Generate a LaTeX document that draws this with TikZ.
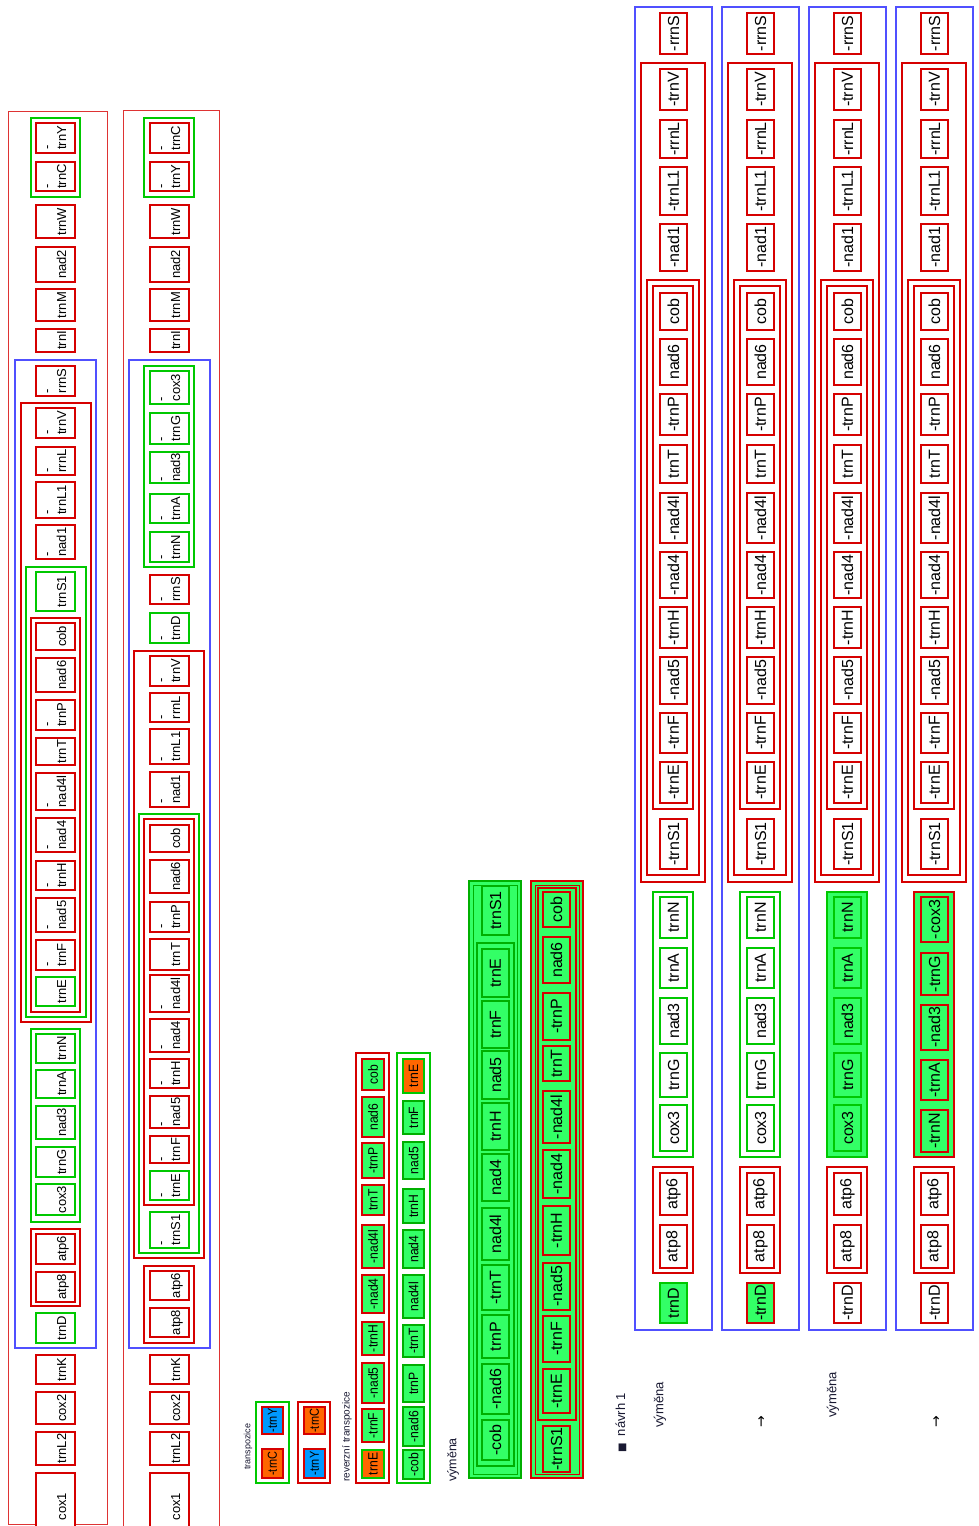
\documentclass[tikz,border=0pt]{standalone}
\usepackage{fontspec}
\setmainfont{Liberation Sans}
\newfontfamily\dejavu{DejaVu Sans}
\definecolor{gred}{RGB}{214,0,0}
\definecolor{ggreen}{RGB}{0,200,0}
\definecolor{dgreen}{RGB}{0,175,0}
\definecolor{gblue}{RGB}{80,80,255}
\definecolor{lgreen}{RGB}{51,255,102}
\definecolor{gorange}{RGB}{255,102,0}
\definecolor{gsky}{RGB}{0,153,255}
\definecolor{txtc}{RGB}{25,25,50}
\tikzset{
 gene/.style={draw=gred,line width=2.3pt,fill=white,rotate=90,inner sep=0pt,outer sep=0pt,align=center,text=black},
 grp/.style={draw=gred,line width=1.8pt,inner sep=0pt,outer sep=0pt},
 bdG/.style={draw=ggreen},
 bdDG/.style={draw=dgreen},
 bdB/.style={draw=gblue},
 fillG/.style={fill=lgreen},
 fillO/.style={fill=gorange},
 fillB/.style={fill=gsky},
 lft/.style={font=\fontsize{13}{15}\selectfont,align=left},
 mid/.style={font=\fontsize{13.5}{15}\selectfont},
 sml/.style={font=\fontsize{13}{15}\selectfont},
 big/.style={font=\fontsize{16}{18}\selectfont},
 rgt/.style={font=\fontsize{16}{18}\selectfont},
 lab/.style={rotate=90,anchor=west,inner sep=0pt,text=txtc},
}
% gene node: [style]{name}{x1}{y1}{x2}{y2}{text}
\newcommand\gn[7][]{%
 \pgfmathsetmacro\myCX{((#3)+(#5))/2}\pgfmathsetmacro\myCY{((#4)+(#6))/2}%
 \pgfmathsetmacro\myLW{(#6)-(#4)}\pgfmathsetmacro\myLH{(#5)-(#3)}%
 \node[gene,#1,minimum width=\myLW pt,minimum height=\myLH pt] (#2) at (\myCX,\myCY) {#7};}
% group node: [style]{name}{x1}{y1}{x2}{y2}
\newcommand\gp[6][]{%
 \pgfmathsetmacro\myCX{((#3)+(#5))/2}\pgfmathsetmacro\myCY{((#4)+(#6))/2}%
 \pgfmathsetmacro\myLW{(#5)-(#3)}\pgfmathsetmacro\myLH{(#6)-(#4)}%
 \node[grp,#1,minimum width=\myLW pt,minimum height=\myLH pt] (#2) at (\myCX,\myCY) {};}
\newcommand\mi[1]{\strut-\\\strut #1}
\newcommand\pl[1]{\strut\\\strut #1}
\newcommand\nar[1]{\scalebox{0.84}[1]{#1}}
\newcommand\nmr[1]{\scalebox{0.9}[1]{#1}}
\begin{document}
\begin{tikzpicture}[x=1pt,y=-1pt]
\useasboundingbox (0,0) rectangle (978,1526);
\clip (0,0) rectangle (978,1526);
\fill[white] (0,0) rectangle (978,1526);

% ================= Column 1 =================
\gp[draw=gred!80,line width=1pt]{c1}{8}{111}{107}{1524}
\gp[bdG]{c1g1}{31}{118}{80}{197}
\gp[bdB]{c1b}{15}{360}{96}{1348}
\gp[]{c1r1}{21}{403}{91}{1022}
\gp[bdG]{c1g2}{26}{567}{86}{1017}
\gp[]{c1r2}{31}{618}{80}{1012}
\gp[bdG]{c1g3}{31}{1029}{80}{1222}
\gp[]{c1r3}{31}{1229}{80}{1306}
\gn[lft]{c1trnY}{36}{123}{75}{153}{\mi{trnY}}
\gn[lft]{c1trnC}{36}{162}{75}{191}{\mi{trnC}}
\gn[lft]{c1trnW}{36}{205}{75}{238}{\pl{trnW}}
\gn[lft]{c1nad2}{36}{247}{75}{282}{\pl{nad2}}
\gn[lft]{c1trnM}{36}{289}{75}{321}{\pl{trnM}}
\gn[lft]{c1trnI}{36}{329}{75}{352}{\pl{trnI}}
\gn[lft]{c1rrnS}{36}{366}{75}{396}{\mi{rrnS}}
\gn[lft]{c1trnV}{36}{408}{75}{438}{\mi{trnV}}
\gn[lft]{c1rrnL}{36}{447}{75}{475}{\mi{rrnL}}
\gn[lft]{c1trnL1}{36}{482}{75}{518}{\mi{trnL1}}
\gn[lft]{c1nad1}{36}{525}{75}{559}{\mi{nad1}}
\gn[lft,bdG]{c1trnS1}{36}{572}{75}{611}{\pl{trnS1}}
\gn[lft]{c1cob}{36}{623}{75}{650}{\pl{cob}}
\gn[lft]{c1nad6}{36}{658}{75}{692}{\pl{nad6}}
\gn[lft]{c1trnP}{36}{700}{75}{730}{\mi{trnP}}
\gn[lft]{c1trnT}{36}{738}{75}{765}{\pl{trnT}}
\gn[lft]{c1nad4l}{36}{773}{75}{810}{\mi{nad4l}}
\gn[lft]{c1nad4}{36}{818}{75}{852}{\mi{nad4}}
\gn[lft]{c1trnH}{36}{861}{75}{890}{\mi{trnH}}
\gn[lft]{c1nad5}{36}{898}{75}{932}{\mi{nad5}}
\gn[lft]{c1trnF}{36}{940}{75}{970}{\mi{trnF}}
\gn[lft,bdG]{c1trnE}{36}{977}{75}{1006}{\pl{trnE}}
\gn[lft,bdG]{c1trnN}{36}{1034}{75}{1063}{\pl{trnN}}
\gn[lft,bdG]{c1trnA}{36}{1070}{75}{1098}{\pl{trnA}}
\gn[lft,bdG]{c1nad3}{36}{1106}{75}{1139}{\pl{nad3}}
\gn[lft,bdG]{c1trnG}{36}{1147}{75}{1177}{\pl{trnG}}
\gn[lft,bdG]{c1cox3}{36}{1184}{75}{1215}{\pl{cox3}}
\gn[lft]{c1atp6}{36}{1234}{75}{1264}{\pl{atp6}}
\gn[lft]{c1atp8}{36}{1272}{75}{1302}{\pl{atp8}}
\gn[lft,bdG]{c1trnD}{36}{1313}{75}{1343}{\pl{trnD}}
\gn[lft]{c1trnK}{36}{1355}{75}{1384}{\pl{trnK}}
\gn[lft]{c1cox2}{36}{1392}{75}{1424}{\pl{cox2}}
\gn[lft]{c1trnL2}{36}{1432}{75}{1465}{\pl{trnL2}}
\gn[lft]{c1cox1}{36}{1473}{75}{1540}{\pl{cox1}}

% ================= Column 2 =================
\gp[draw=gred!80,line width=1pt]{c2}{123}{110}{219}{1540}
\gp[bdG]{c2g1}{144}{118}{194}{197}
\gp[bdB]{c2b}{129}{360}{210}{1348}
\gp[bdG]{c2g2}{144}{366}{194}{567}
\gp[]{c2r1}{134}{651}{204}{1258}
\gp[bdG]{c2g3}{139}{814}{199}{1253}
\gp[]{c2r2}{144}{819}{194}{1205}
\gp[]{c2r3}{144}{1266}{194}{1343}
\gn[lft]{c2trnC}{150}{123}{189}{153}{\mi{trnC}}
\gn[lft]{c2trnY}{150}{162}{189}{191}{\mi{trnY}}
\gn[lft]{c2trnW}{150}{205}{189}{238}{\pl{trnW}}
\gn[lft]{c2nad2}{150}{247}{189}{282}{\pl{nad2}}
\gn[lft]{c2trnM}{150}{289}{189}{321}{\pl{trnM}}
\gn[lft]{c2trnI}{150}{329}{189}{352}{\pl{trnI}}
\gn[lft,bdG]{c2cox3}{150}{371}{189}{404}{\mi{cox3}}
\gn[lft,bdG]{c2trnG}{150}{413}{189}{444}{\mi{trnG}}
\gn[lft,bdG]{c2nad3}{150}{452}{189}{483}{\mi{nad3}}
\gn[lft,bdG]{c2trnA}{150}{494}{189}{523}{\mi{trnA}}
\gn[lft,bdG]{c2trnN}{150}{532}{189}{562}{\mi{trnN}}
\gn[lft]{c2rrnS}{150}{575}{189}{604}{\mi{rrnS}}
\gn[lft,bdG]{c2trnD}{150}{613}{189}{643}{\mi{trnD}}
\gn[lft]{c2trnV}{150}{656}{189}{686}{\mi{trnV}}
\gn[lft]{c2rrnL}{150}{693}{189}{722}{\mi{rrnL}}
\gn[lft]{c2trnL1}{150}{729}{189}{764}{\mi{trnL1}}
\gn[lft]{c2nad1}{150}{772}{189}{807}{\mi{nad1}}
\gn[lft]{c2cob}{150}{825}{189}{852}{\pl{cob}}
\gn[lft]{c2nad6}{150}{860}{189}{893}{\pl{nad6}}
\gn[lft]{c2trnP}{150}{902}{189}{932}{\mi{trnP}}
\gn[lft]{c2trnT}{150}{939}{189}{970}{\pl{trnT}}
\gn[lft]{c2nad4l}{150}{975}{189}{1012}{\mi{nad4l}}
\gn[lft]{c2nad4}{150}{1019}{189}{1052}{\mi{nad4}}
\gn[lft]{c2trnH}{150}{1059}{189}{1088}{\mi{trnH}}
\gn[lft]{c2nad5}{150}{1096}{189}{1128}{\mi{nad5}}
\gn[lft]{c2trnF}{150}{1136}{189}{1163}{\mi{trnF}}
\gn[lft,bdG]{c2trnE}{150}{1171}{189}{1200}{\mi{trnE}}
\gn[lft,bdG]{c2trnS1}{150}{1212}{189}{1248}{\mi{trnS1}}
\gn[lft]{c2atp6}{150}{1271}{189}{1300}{\pl{atp6}}
\gn[lft]{c2atp8}{150}{1308}{189}{1337}{\pl{atp8}}
\gn[lft]{c2trnK}{150}{1355}{189}{1384}{\pl{trnK}}
\gn[lft]{c2cox2}{150}{1392}{189}{1424}{\pl{cox2}}
\gn[lft]{c2trnL2}{150}{1432}{189}{1465}{\pl{trnL2}}
\gn[lft]{c2cox1}{150}{1473}{189}{1540}{\pl{cox1}}

% ================= Middle: transpozice =================
\node[lab,font=\fontsize{9}{10}\selectfont] (t1) at (248,1470) {transpozice};
\gp[bdG]{tg}{256}{1402}{289}{1483}
\gn[sml,fillB]{tgY}{262}{1407}{283}{1434}{\nar{-trnY}}
\gn[sml,fillO]{tgC}{262}{1449}{283}{1478}{\nar{-trnC}}
\gp[]{tr}{298}{1402}{330}{1483}
\gn[sml,fillO]{trC}{304}{1407}{325}{1434}{\nar{-trnC}}
\gn[sml,fillB]{trY}{304}{1449}{325}{1478}{\nar{-trnY}}

\node[lab,font=\fontsize{10}{12}\selectfont] (t2) at (347,1482) {reverzní transpozice};
\gp[]{rr}{356}{1053}{389}{1483}
\gn[mid,fillG]{rrcob}{362}{1059}{384}{1090}{\nmr{cob}}
\gn[mid,fillG]{rrnad6}{362}{1097}{384}{1137}{\nmr{nad6}}
\gn[mid,fillG]{rrtrnP}{362}{1143}{384}{1178}{\nmr{-trnP}}
\gn[mid,fillG]{rrtrnT}{362}{1185}{384}{1215}{\nmr{trnT}}
\gn[mid,fillG]{rrnad4l}{362}{1225}{384}{1268}{\nmr{-nad4l}}
\gn[mid,fillG]{rrnad4}{362}{1275}{384}{1313}{\nmr{-nad4}}
\gn[mid,fillG]{rrtrnH}{362}{1322}{384}{1355}{\nmr{-trnH}}
\gn[mid,fillG]{rrnad5}{362}{1363}{384}{1403}{\nmr{-nad5}}
\gn[mid,fillG]{rrtrnF}{362}{1409}{384}{1442}{\nmr{-trnF}}
\gn[mid,fillO,bdG]{rrtrnE}{362}{1450}{384}{1478}{\nmr{trnE}}
\gp[bdG]{rg}{397}{1053}{430}{1483}
\gn[mid,fillO,bdG]{rgtrnE}{403}{1059}{424}{1093}{\nmr{trnE}}
\gn[mid,fillG,bdDG]{rgtrnF}{403}{1101}{424}{1134}{\nmr{trnF}}
\gn[mid,fillG,bdDG]{rgnad5}{403}{1142}{424}{1179}{\nmr{nad5}}
\gn[mid,fillG,bdDG]{rgtrnH}{403}{1189}{424}{1223}{\nmr{trnH}}
\gn[mid,fillG,bdDG]{rgnad4}{403}{1230}{424}{1268}{\nmr{nad4}}
\gn[mid,fillG,bdDG]{rgnad4l}{403}{1275}{424}{1318}{\nmr{nad4l}}
\gn[mid,fillG,bdDG]{rgtrnT}{403}{1325}{424}{1357}{\nmr{-trnT}}
\gn[mid,fillG,bdDG]{rgtrnP}{403}{1365}{424}{1402}{\nmr{trnP}}
\gn[mid,fillG,bdDG]{rgnad6}{403}{1407}{424}{1446}{\nmr{-nad6}}
\gn[mid,fillG,bdDG]{rgcob}{403}{1450}{424}{1479}{\nmr{-cob}}

\node[lab,font=\fontsize{12.5}{14}\selectfont] (t3) at (453,1482) {výměna};

% ================= Big green / red columns =================
\gp[bdDG,fillG,line width=2pt]{bgO}{469}{881}{521}{1478}
\gp[bdDG,line width=1pt]{bgO2}{473}{885}{517}{1474}
\gp[bdDG,line width=1.6pt]{bgI}{477}{943}{514}{1466}
\gn[big,fillG,bdDG]{bgtrnS1}{482}{886}{509}{935}{trnS1}
\gn[big,fillG,bdDG]{bgtrnE}{482}{949}{509}{997}{trnE}
\gn[big,fillG,bdDG]{bgtrnF}{482}{1001}{509}{1048}{trnF}
\gn[big,fillG,bdDG]{bgnad5}{482}{1051}{509}{1099}{nad5}
\gn[big,fillG,bdDG]{bgtrnH}{482}{1103}{509}{1150}{trnH}
\gn[big,fillG,bdDG]{bgnad4}{482}{1154}{509}{1201}{nad4}
\gn[big,fillG,bdDG]{bgnad4l}{482}{1208}{509}{1260}{nad4l}
\gn[big,fillG,bdDG]{bgtrnT}{482}{1265}{509}{1310}{-trnT}
\gn[big,fillG,bdDG]{bgtrnP}{482}{1315}{509}{1358}{trnP}
\gn[big,fillG,bdDG]{bgnad6}{482}{1364}{509}{1414}{-nad6}
\gn[big,fillG,bdDG]{bgcob}{482}{1420}{509}{1460}{-cob}

\gp[fillG,line width=2pt]{brO}{531}{881}{583}{1478}
\gp[line width=1pt]{brO2}{535}{885}{579}{1474}
\gp[line width=1.6pt]{brI}{538}{888}{576}{1420}
\gn[big,fillG]{brcob}{543}{892}{570}{927}{cob}
\gn[big,fillG]{brnad6}{543}{937}{570}{983}{nad6}
\gn[big,fillG]{brtrnP}{543}{993}{570}{1040}{-trnP}
\gn[big,fillG]{brtrnT}{543}{1046}{570}{1081}{trnT}
\gn[big,fillG]{brnad4l}{543}{1091}{570}{1143}{-nad4l}
\gn[big,fillG]{brnad4}{543}{1150}{570}{1198}{-nad4}
\gn[big,fillG]{brtrnH}{543}{1206}{570}{1255}{-trnH}
\gn[big,fillG]{brnad5}{543}{1263}{570}{1310}{-nad5}
\gn[big,fillG]{brtrnF}{543}{1316}{570}{1362}{-trnF}
\gn[big,fillG]{brtrnE}{543}{1369}{570}{1413}{-trnE}
\gn[big,fillG]{brtrnS1}{543}{1426}{570}{1472}{-trnS1}

% ================= Right: four columns =================
\foreach \c/\d in {A/0,B/87,C/174,D/261}{
 \gp[bdB]{\c-blue}{635+\d}{7}{712+\d}{1330}
 \gp[]{\c-g1}{641+\d}{63}{705+\d}{882}
 \gp[]{\c-g2}{647+\d}{280}{699+\d}{875}
 \gp[]{\c-g3}{653+\d}{286}{693+\d}{809}
 \gp[]{\c-atp}{653+\d}{1167}{693+\d}{1273}
 \gn[rgt]{\c-rrnS}{660+\d}{13}{687+\d}{54}{-rrnS}
 \gn[rgt]{\c-trnV}{660+\d}{69}{687+\d}{110}{-trnV}
 \gn[rgt]{\c-rrnL}{660+\d}{120}{687+\d}{158}{-rrnL}
 \gn[rgt]{\c-trnL1}{660+\d}{167}{687+\d}{215}{-trnL1}
 \gn[rgt]{\c-nad1}{660+\d}{224}{687+\d}{271}{-nad1}
 \gn[rgt]{\c-cob}{660+\d}{293}{687+\d}{330}{cob}
 \gn[rgt]{\c-nad6}{660+\d}{339}{687+\d}{385}{nad6}
 \gn[rgt]{\c-trnP}{660+\d}{394}{687+\d}{435}{-trnP}
 \gn[rgt]{\c-trnT}{660+\d}{445}{687+\d}{483}{trnT}
 \gn[rgt]{\c-nad4l}{660+\d}{493}{687+\d}{543}{-nad4l}
 \gn[rgt]{\c-nad4}{660+\d}{552}{687+\d}{598}{-nad4}
 \gn[rgt]{\c-trnH}{660+\d}{607}{687+\d}{648}{-trnH}
 \gn[rgt]{\c-nad5}{660+\d}{657}{687+\d}{704}{-nad5}
 \gn[rgt]{\c-trnF}{660+\d}{713}{687+\d}{753}{-trnF}
 \gn[rgt]{\c-trnE}{660+\d}{762}{687+\d}{803}{-trnE}
 \gn[rgt]{\c-trnS1}{660+\d}{819}{687+\d}{869}{-trnS1}
 \gn[rgt]{\c-atp6}{660+\d}{1173}{687+\d}{1215}{atp6}
 \gn[rgt]{\c-atp8}{660+\d}{1225}{687+\d}{1268}{atp8}
}
% column A
\gp[bdG]{A-gg}{653}{892}{693}{1157}
\gn[rgt,bdG]{A-trnN}{660}{897}{687}{938}{trnN}
\gn[rgt,bdG]{A-trnA}{660}{948}{687}{988}{trnA}
\gn[rgt,bdG]{A-nad3}{660}{998}{687}{1044}{nad3}
\gn[rgt,bdG]{A-trnG}{660}{1053}{687}{1097}{trnG}
\gn[rgt,bdG]{A-cox3}{660}{1105}{687}{1151}{cox3}
\gn[rgt,bdG,fillG]{A-trnD}{660}{1283}{687}{1323}{trnD}
% column B
\gp[bdG]{B-gg}{740}{892}{780}{1157}
\gn[rgt,bdG]{B-trnN}{747}{897}{774}{938}{trnN}
\gn[rgt,bdG]{B-trnA}{747}{948}{774}{988}{trnA}
\gn[rgt,bdG]{B-nad3}{747}{998}{774}{1044}{nad3}
\gn[rgt,bdG]{B-trnG}{747}{1053}{774}{1097}{trnG}
\gn[rgt,bdG]{B-cox3}{747}{1105}{774}{1151}{cox3}
\gn[rgt,fillG]{B-trnD}{747}{1283}{774}{1323}{-trnD}
% column C
\gp[bdG,fillG]{C-gg}{827}{892}{867}{1157}
\gn[rgt,bdG,fillG]{C-trnN}{834}{897}{861}{938}{trnN}
\gn[rgt,bdG,fillG]{C-trnA}{834}{948}{861}{988}{trnA}
\gn[rgt,bdG,fillG]{C-nad3}{834}{998}{861}{1044}{nad3}
\gn[rgt,bdG,fillG]{C-trnG}{834}{1053}{861}{1097}{trnG}
\gn[rgt,bdG,fillG]{C-cox3}{834}{1105}{861}{1151}{cox3}
\gn[rgt]{C-trnD}{834}{1283}{861}{1323}{-trnD}
% column D
\gp[fillG]{D-gg}{914}{892}{954}{1157}
\gn[rgt,fillG]{D-cox3}{921}{897}{948}{942}{-cox3}
\gn[rgt,fillG]{D-trnG}{921}{953}{948}{995}{-trnG}
\gn[rgt,fillG]{D-nad3}{921}{1005}{948}{1050}{-nad3}
\gn[rgt,fillG]{D-trnA}{921}{1060}{948}{1100}{-trnA}
\gn[rgt,fillG]{D-trnN}{921}{1110}{948}{1152}{-trnN}
\gn[rgt]{D-trnD}{921}{1283}{948}{1323}{-trnD}

% headers
\node[lab,font=\fontsize{13}{15}\selectfont] (n1) at (621,1453) {{\dejavu\fontsize{10}{12}\selectfont ■}\ \ návrh 1};
\node[lab,font=\fontsize{13}{15}\selectfont] (v1) at (660,1428) {výměna};
\node[rotate=90,inner sep=0pt,font=\dejavu\fontsize{14}{16}\selectfont] (a1) at (762,1422) {→};
\node[lab,font=\fontsize{13}{15}\selectfont] (v2) at (833,1418) {výměna};
\node[rotate=90,inner sep=0pt,font=\dejavu\fontsize{14}{16}\selectfont] (a2) at (937,1422) {→};
\end{tikzpicture}
\end{document}
